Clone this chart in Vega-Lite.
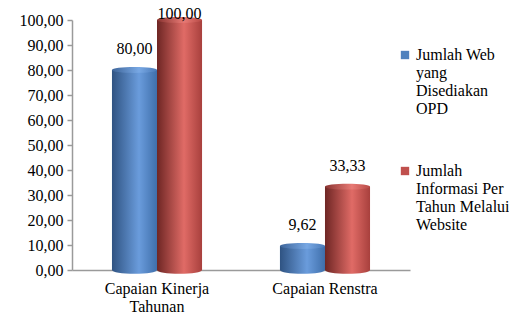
{
  "$schema": "https://vega.github.io/schema/vega-lite/v6.json",
  "width": 338,
  "height": 250,
  "autosize": "none",
  "padding": {"left": 72, "top": 20, "right": 99, "bottom": 47},
  "background": "white",
  "config": {
    "view": {"stroke": null},
    "font": "Liberation Serif",
    "locale": {"number": {"decimal": ",", "thousands": ".", "grouping": [3], "currency": ["Rp", ""]}}
  },
  "data": {
    "values": [
      {"kategori": "Capaian Kinerja Tahunan", "seri": "Jumlah Web yang Disediakan OPD", "nilai": 80.0},
      {"kategori": "Capaian Kinerja Tahunan", "seri": "Jumlah Informasi Per Tahun Melalui Website", "nilai": 100.0},
      {"kategori": "Capaian Renstra", "seri": "Jumlah Web yang Disediakan OPD", "nilai": 9.62},
      {"kategori": "Capaian Renstra", "seri": "Jumlah Informasi Per Tahun Melalui Website", "nilai": 33.33}
    ]
  },
  "encoding": {
    "x": {
      "field": "kategori", "type": "nominal", "sort": null,
      "scale": {"paddingInner": 0.464, "paddingOuter": 0.238},
      "axis": {
        "title": null, "labelAngle": 0, "ticks": false,
        "domainColor": "#9a9a9a", "domainWidth": 1.5,
        "labelFont": "Liberation Serif", "labelFontSize": 16, "labelColor": "#000",
        "labelPadding": 10, "labelLineHeight": 18,
        "labelExpr": "datum.label == 'Capaian Kinerja Tahunan' ? ['Capaian Kinerja', 'Tahunan'] : datum.label"
      }
    },
    "xOffset": {
      "field": "seri", "type": "nominal", "sort": null,
      "scale": {"paddingInner": 0, "paddingOuter": 0}
    },
    "y": {
      "field": "nilai", "type": "quantitative",
      "scale": {"domain": [0, 100], "nice": false},
      "axis": {
        "title": null, "grid": false, "values": [0, 10, 20, 30, 40, 50, 60, 70, 80, 90, 100],
        "labelOverlap": false, "labelFlush": false,
        "format": ".2f", "domainColor": "#9a9a9a", "domainWidth": 1.5,
        "tickColor": "#9a9a9a", "tickSize": 5, "tickWidth": 1.5,
        "labelFont": "Liberation Serif", "labelFontSize": 16, "labelColor": "#000", "labelPadding": 4
      }
    }
  },
  "layer": [
    {
      "mark": {"type": "bar"},
      "encoding": {
        "color": {
          "field": "seri", "type": "nominal", "sort": null,
          "scale": {"range": ["#4F81BD", "#C0504D"]},
          "legend": {
            "title": null, "orient": "none", "legendX": 325, "legendY": 27,
            "symbolType": "square", "symbolSize": 70, "symbolStrokeWidth": 0,
            "labelFont": "Liberation Serif", "labelFontSize": 16, "labelColor": "#000",
            "labelLineHeight": 18, "labelLimit": 300, "rowPadding": 46, "labelOffset": 3,
            "labelExpr": "datum.label == 'Jumlah Web yang Disediakan OPD' ? ['Jumlah Web', 'yang', 'Disediakan', 'OPD'] : ['Jumlah', 'Informasi Per', 'Tahun Melalui', 'Website']"
          }
        }
      }
    },
    {
      "transform": [{"filter": "datum.seri == 'Jumlah Web yang Disediakan OPD'"}],
      "mark": {"type": "point", "filled": true, "size": 2025, "opacity": 1,
        "shape": "M-1,0 A1,0.17 0 1,0 1,0 A1,0.17 0 1,0 -1,0 Z",
        "color": {"gradient": "linear", "x1": 0, "y1": 0, "x2": 1, "y2": 0,
        "stops": [{"offset": 0, "color": "#2f5382"}, {"offset": 0.6, "color": "#6a9cdc"}, {"offset": 1, "color": "#3f6fab"}]}},
      "encoding": {"y": {"datum": 0}}
    },
    {
      "transform": [{"filter": "datum.seri == 'Jumlah Informasi Per Tahun Melalui Website'"}],
      "mark": {"type": "point", "filled": true, "size": 2025, "opacity": 1,
        "shape": "M-1,0 A1,0.17 0 1,0 1,0 A1,0.17 0 1,0 -1,0 Z",
        "color": {"gradient": "linear", "x1": 0, "y1": 0, "x2": 1, "y2": 0,
        "stops": [{"offset": 0, "color": "#6e2624"}, {"offset": 0.6, "color": "#e06b66"}, {"offset": 1, "color": "#a8403d"}]}},
      "encoding": {"y": {"datum": 0}}
    },
    {
      "transform": [{"filter": "datum.seri == 'Jumlah Web yang Disediakan OPD'"}],
      "mark": {"type": "bar", "color": {"gradient": "linear", "x1": 0, "y1": 0, "x2": 1, "y2": 0,
        "stops": [{"offset": 0, "color": "#2f5382"}, {"offset": 0.6, "color": "#6a9cdc"}, {"offset": 1, "color": "#3f6fab"}]}}
    },
    {
      "transform": [{"filter": "datum.seri == 'Jumlah Informasi Per Tahun Melalui Website'"}],
      "mark": {"type": "bar", "color": {"gradient": "linear", "x1": 0, "y1": 0, "x2": 1, "y2": 0,
        "stops": [{"offset": 0, "color": "#6e2624"}, {"offset": 0.6, "color": "#e06b66"}, {"offset": 1, "color": "#a8403d"}]}}
    },
    {
      "transform": [{"filter": "datum.seri == 'Jumlah Web yang Disediakan OPD'"}],
      "mark": {"type": "point", "filled": true, "size": 2025, "opacity": 1,
        "shape": "M-1,0 A1,0.13 0 1,0 1,0 A1,0.13 0 1,0 -1,0 Z",
        "color": {"gradient": "linear", "x1": 0, "y1": 0, "x2": 1, "y2": 0,
        "stops": [{"offset": 0, "color": "#3e659a"}, {"offset": 0.6, "color": "#78a8e4"}, {"offset": 1, "color": "#4a7ab8"}]}}
    },
    {
      "transform": [{"filter": "datum.seri == 'Jumlah Informasi Per Tahun Melalui Website'"}],
      "mark": {"type": "point", "filled": true, "size": 2025, "opacity": 1,
        "shape": "M-1,0 A1,0.13 0 1,0 1,0 A1,0.13 0 1,0 -1,0 Z",
        "color": {"gradient": "linear", "x1": 0, "y1": 0, "x2": 1, "y2": 0,
        "stops": [{"offset": 0, "color": "#8a3431"}, {"offset": 0.6, "color": "#e87a75"}, {"offset": 1, "color": "#b84a46"}]}}
    },
    {
      "transform": [{"filter": "datum.nilai < 100"}],
      "mark": {"type": "text", "baseline": "bottom", "dy": -13, "fontSize": 16, "font": "Liberation Serif", "color": "#000"},
      "encoding": {"text": {"field": "nilai", "type": "quantitative", "format": ".2f"}}
    },
    {
      "transform": [{"filter": "datum.nilai >= 100"}],
      "mark": {"type": "text", "baseline": "bottom", "dy": 2, "fontSize": 16, "font": "Liberation Serif", "color": "#000"},
      "encoding": {"text": {"field": "nilai", "type": "quantitative", "format": ".2f"}}
    }
  ]
}
